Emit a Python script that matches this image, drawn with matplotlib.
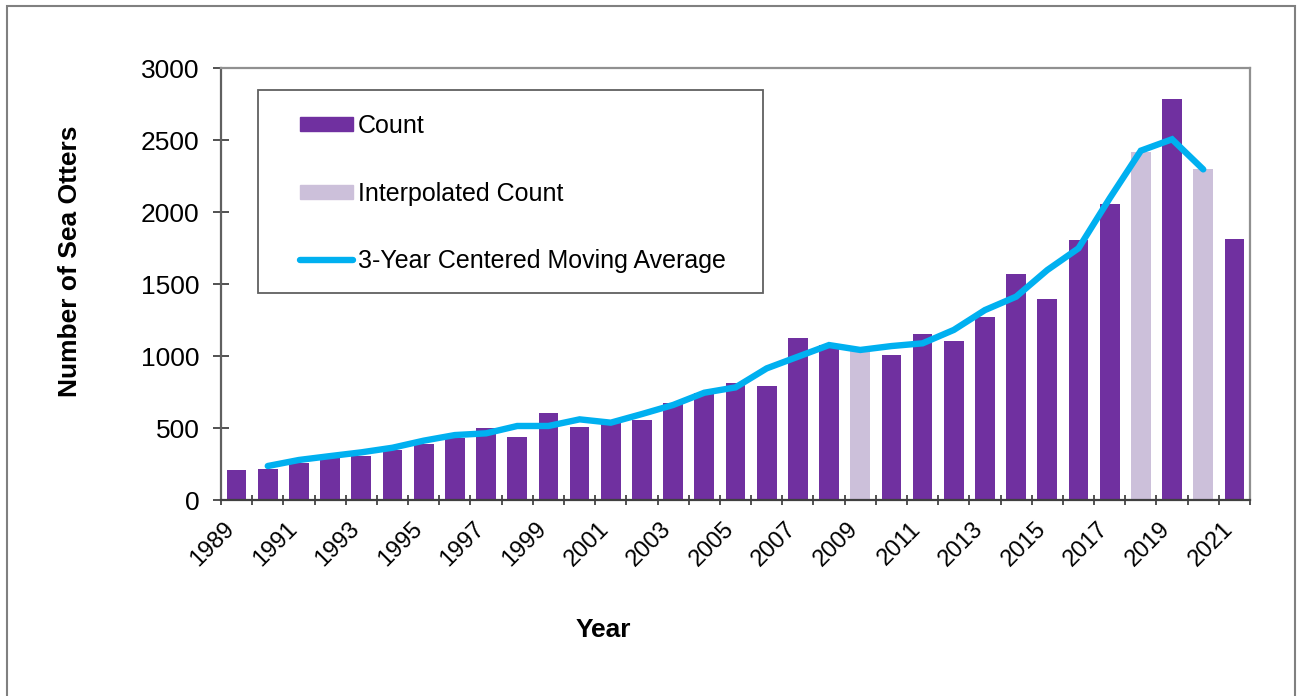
import matplotlib.pyplot as plt
import numpy as np
from matplotlib.patches import Rectangle
from matplotlib.lines import Line2D
from matplotlib.ticker import FixedLocator
from matplotlib.transforms import ScaledTranslation

plt.rcParams['font.family'] = ['Liberation Sans', 'DejaVu Sans']

# Survey data
years = list(range(1989, 2022))
counts = [210, 212, 258, 290, 308, 347, 390, 428, 500, 435, 606, 507, 532, 553, 674,
          741, 812, 789, 1125, 1075, 1040, 1005, 1153, 1102, 1271, 1572, 1394, 1803,
          2058, 2419, 2782, 2296, 1810]
interpolated = [2009, 2018, 2020]
# 3-year centered moving average, 1990-2020
ma_years = list(range(1990, 2021))
moving_avg = [236, 278, 305, 331, 363, 412, 451, 463, 514, 514, 560, 537, 597, 660, 745,
              782, 914, 995, 1076, 1042, 1069, 1088, 1181, 1319, 1412, 1597, 1748, 2095,
              2426, 2505, 2296]

purple = '#7030A0'
lilac = '#CCC0DA'
blue = '#00B0F0'

W, H = 1299, 696
fig = plt.figure(figsize=(W / 100, H / 100), dpi=100)
ax = fig.add_axes([221 / W, 1 - 500 / H, (1250 - 221) / W, (500 - 68) / H])

x = np.arange(len(years))
colors = [lilac if y in interpolated else purple for y in years]
ax.bar(x, counts, width=0.63, color=colors, zorder=2)
ma_x = [years.index(y) for y in ma_years]
ax.plot(ma_x, moving_avg, color=blue, lw=4.6, solid_capstyle='round',
        solid_joinstyle='miter', zorder=3)

ax.set_xlim(-0.5, len(years) - 0.5)
ax.set_ylim(0, 3000)
ax.set_yticks(range(0, 3001, 500))
ax.xaxis.set_major_locator(FixedLocator(np.arange(-0.5, len(years), 1.0)))
ax.xaxis.set_major_formatter(plt.NullFormatter())
ax.set_xticks(x[::2], minor=True)
ax.tick_params(axis='x', which='major', direction='inout', length=7, width=1.2, color='#333333')
ax.tick_params(axis='x', which='minor', length=0, pad=18.5)
ax.tick_params(axis='y', direction='inout', length=11, width=1.2, pad=10,
               labelsize=19, color='#333333')
ax.set_xticklabels([str(y) for y in years[::2]], minor=True, rotation=45,
                   ha='right', va='center', rotation_mode='anchor', fontsize=17)
# nudge the rotated year labels left (after tick_params, which resets transforms)
shift = ScaledTranslation(-5 / 100, 0, fig.dpi_scale_trans)
for lbl in ax.get_xticklabels(minor=True):
    lbl.set_transform(lbl.get_transform() + shift)

for side in ['top', 'right']:
    ax.spines[side].set_color('#909090')
    ax.spines[side].set_linewidth(1.6)
ax.spines['left'].set_color('#606060')
ax.spines['left'].set_linewidth(1.6)
ax.spines['bottom'].set_color('#404040')
ax.spines['bottom'].set_linewidth(1.6)

fig.text(70 / W, 1 - 261 / H, 'Number of Sea Otters', rotation=90, ha='center',
         va='center', fontsize=19, fontweight='bold')
fig.text(603 / W, 1 - 630 / H, 'Year', ha='center', va='center',
         fontsize=19, fontweight='bold')

# legend box
fig.add_artist(Rectangle((258 / W, 1 - 293 / H), (763 - 258) / W, (293 - 90) / H,
                         transform=fig.transFigure, fill=False, edgecolor='#606060', lw=1.3))
handles = [Rectangle((0, 0), 1, 1, color=purple), Rectangle((0, 0), 1, 1, color=lilac),
           Line2D([], [], color=blue, lw=4.6, solid_capstyle='round')]
fig.legend(handles, ['Count', 'Interpolated Count', '3-Year Centered Moving Average'],
           loc='upper left', bbox_to_anchor=(300 / W, 1 - 114 / H), frameon=False,
           borderpad=0, borderaxespad=0, fontsize=18, handlelength=2.1,
           handleheight=0.5, handletextpad=0.2, labelspacing=1.74)

# outer chart frame
fig.add_artist(Rectangle((7 / W, -0.05), (1295 - 7) / W, 1.05 - 6 / H,
                         transform=fig.transFigure, fill=False, edgecolor='#808080', lw=1.5))

fig.savefig('out.png', dpi=100)
